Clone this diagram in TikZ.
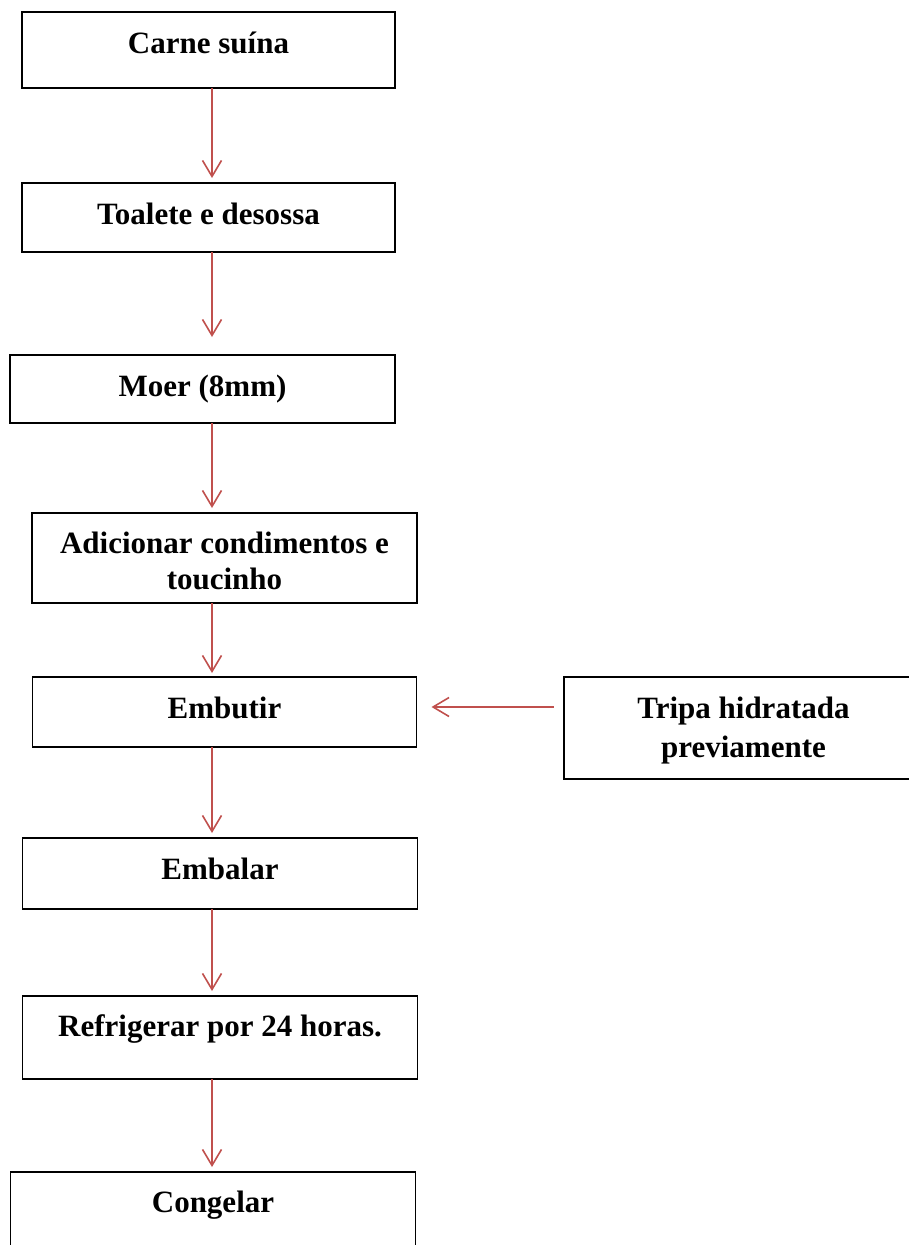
\documentclass[tikz,border=0pt]{standalone}
\usepackage{fontspec}
\setmainfont{Liberation Serif}
\usepackage{xcolor}
\usepackage{tikz}
\usetikzlibrary{arrows.meta,positioning}

\definecolor{setared}{RGB}{192,80,77}

\begin{document}
\begin{tikzpicture}[
    etapa/.style={rectangle, draw, line width=1.5pt, outer sep=0pt, inner xsep=0pt, inner ysep=0pt,
      text height=41pt, align=center, font=\bfseries\fontsize{31pt}{36pt}\selectfont},
    seta/.style={-{Straight Barb[length=16pt,width=19pt]}, line width=1.6pt, draw=setared, shorten >=5pt}
  ]
  \useasboundingbox (0,0) rectangle (909pt,-1245pt);
  \coordinate (eixo) at (212pt,0);

  % Main chain
  \node[etapa, anchor=north west, minimum width=373pt, text depth=35pt] (carne) at (22pt,-12pt) {Carne suína};
  \node[etapa, below=95pt of carne, minimum width=373pt, text depth=28pt] (toalete) {Toalete e desossa};
  \node[etapa, below=103pt of toalete, xshift=-6pt, minimum width=385pt, text depth=27pt] (moer) {Moer (8mm)};
  \node[etapa, below=90pt of moer, xshift=22pt, minimum width=385pt, text height=76pt, text depth=14pt]
    (adicionar) {Adicionar condimentos e\\toucinho};
  \node[etapa, below=74pt of adicionar, minimum width=384pt, text depth=29pt] (embutir) {Embutir};
  \node[etapa, below=91pt of embutir, xshift=-4.5pt, minimum width=395pt, text depth=30pt] (embalar) {Embalar};
  \node[etapa, below=87pt of embalar, minimum width=395pt, text height=40pt, text depth=43pt]
    (refrigerar) {Refrigerar por 24 horas.};
  \node[etapa, below=93pt of refrigerar, xshift=-7pt, minimum width=405pt, text height=40pt, text depth=40pt]
    (congelar) {Congelar};

  % Casing
  \node[etapa, right=147pt of embutir.north east, anchor=north west, line width=2pt, minimum width=360pt,
    text height=80pt, text depth=22pt, font=\bfseries\fontsize{31pt}{39pt}\selectfont] (tripa) {Tripa hidratada\\previamente};
  \coordinate (entrada) at ([yshift=5pt]embutir.east);

  % Arrows
  \draw[seta] (carne.south -| eixo) -- (toalete.north -| eixo);
  \draw[seta, shorten >=18pt] (toalete.south -| eixo) -- (moer.north -| eixo);
  \draw[seta] (moer.south -| eixo) -- (adicionar.north -| eixo);
  \draw[seta, shorten >=4pt] (adicionar.south -| eixo) -- (embutir.north -| eixo);
  \draw[seta] (embutir.south -| eixo) -- (embalar.north -| eixo);
  \draw[seta] (embalar.south -| eixo) -- (refrigerar.north -| eixo);
  \draw[seta] (refrigerar.south -| eixo) -- (congelar.north -| eixo);
  \draw[seta, shorten <=10pt, shorten >=15pt] (tripa.west |- entrada) -- (entrada);
\end{tikzpicture}
\end{document}
